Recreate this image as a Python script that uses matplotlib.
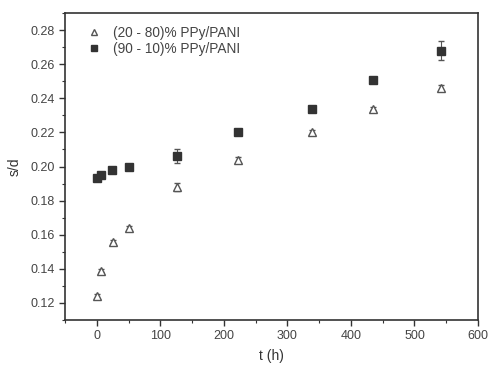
import matplotlib
matplotlib.use("Agg")
import matplotlib.pyplot as plt
from matplotlib.ticker import MultipleLocator
from matplotlib.lines import Line2D

t_a = [0, 7, 25, 50, 126, 222, 338, 435, 541]
sd_a = [0.124, 0.139, 0.156, 0.164, 0.188, 0.204, 0.220, 0.234, 0.246]
err_a = [0.0015, 0.0010, 0.0010, 0.0010, 0.0025, 0.0015, 0.0015, 0.0010, 0.0015]

t_b = [0, 6, 24, 50, 126, 222, 338, 435, 541]
sd_b = [0.193, 0.195, 0.198, 0.200, 0.206, 0.220, 0.234, 0.251, 0.268]
err_b = [0.0010, 0.0010, 0.0010, 0.0010, 0.0042, 0.0012, 0.0012, 0.0012, 0.0055]

label_a = "(20 - 80)% PPy/PANI"
label_b = "(90 - 10)% PPy/PANI"

plt.rcParams['font.family'] = ['Liberation Sans', 'DejaVu Sans']

fig = plt.figure(figsize=(4.88, 3.67), dpi=100)
ax = fig.add_axes([65/488, 1 - 320/367, (478-65)/488, (320-13)/367])

col = '#333333'
ax.errorbar(t_a, sd_a, yerr=err_a, fmt='^', mfc='white', mec='#555555', mew=1.0,
            ms=5.5, ecolor='#555555', elinewidth=0.8, capsize=2.5)
ax.errorbar(t_b, sd_b, yerr=err_b, fmt='s', mfc=col, mec=col, ms=5.5,
            ecolor='#555555', elinewidth=0.8, capsize=2.5)

ax.set_xlim(-50, 600)
ax.set_ylim(0.11, 0.29)
ax.xaxis.set_major_locator(MultipleLocator(100))
ax.xaxis.set_minor_locator(MultipleLocator(50))
ax.yaxis.set_minor_locator(MultipleLocator(0.01))
ax.set_yticks([0.12, 0.14, 0.16, 0.18, 0.20, 0.22, 0.24, 0.26, 0.28])
ax.set_yticklabels(["0.12", "0.14", "0.16", "0.18", "0.20", "0.22", "0.24", "0.26", "0.28"])
ax.tick_params(which='major', direction='out', length=4, width=1, colors='#333333',
               labelsize=9, labelcolor='#444444')
ax.tick_params(which='minor', direction='out', length=2.5, width=0.8, colors='#333333')
for s in ax.spines.values():
    s.set_color('#333333')
    s.set_linewidth(1.2)

ax.set_xlabel("t (h)", fontsize=10, color='#333333', labelpad=5)
ax.set_ylabel("s/d", fontsize=10, color='#333333', labelpad=6)

handles = [
    Line2D([], [], ls='none', marker='^', mfc='white', mec='#555555', mew=1.0, ms=5),
    Line2D([], [], ls='none', marker='s', mfc=col, mec=col, ms=5),
]
leg = ax.legend(handles, [label_a, label_b], loc='upper left', frameon=False,
                fontsize=9.8, handletextpad=0.9, bbox_to_anchor=(0.035, 0.985),
                borderaxespad=0.2, labelspacing=0.15, handlelength=1.0)
for txt in leg.get_texts():
    txt.set_color('#444444')

fig.savefig("out.png", dpi=100)
